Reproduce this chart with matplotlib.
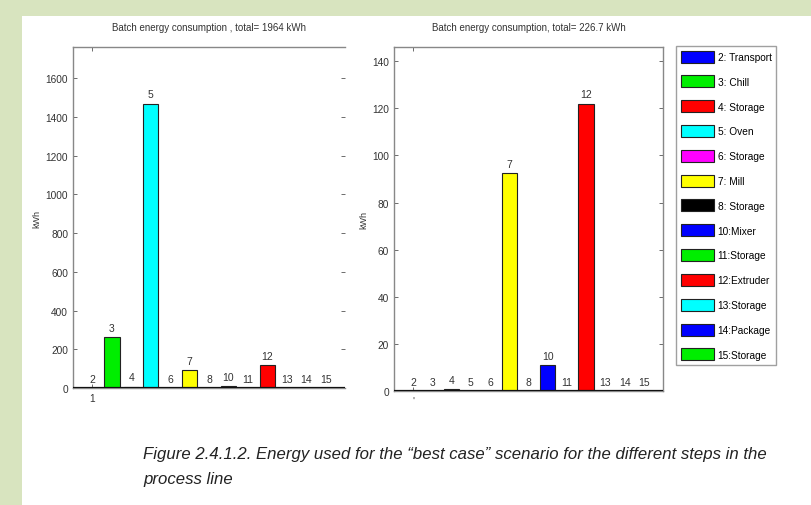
import matplotlib.pyplot as plt
from matplotlib.patches import Patch, Rectangle

plt.rcParams['font.family'] = ['Liberation Sans', 'DejaVu Sans']

steps = ['2', '3', '4', '5', '6', '7', '8', '10', '11', '12', '13', '14', '15']
colors = ['#0000ff', '#00ee00', '#ff0000', '#00ffff', '#ff00ff', '#ffff00', '#000000',
          '#0000ff', '#00ee00', '#ff0000', '#00ffff', '#0000ff', '#00ee00']
left_kwh = [0, 265, 8, 1468, 0, 95, 0, 10, 0, 118, 0, 0, 0]
right_kwh = [0, 0, 1, 0, 0, 92.5, 0, 11.2, 0, 122, 0, 0, 0]
legend_names = ['2: Transport', '3: Chill', '4: Storage', '5: Oven', '6: Storage', '7: Mill',
                '8: Storage', '10:Mixer', '11:Storage', '12:Extruder', '13:Storage',
                '14:Package', '15:Storage']
left_title = 'Batch energy consumption , total= 1964 kWh'
right_title = 'Batch energy consumption, total= 226.7 kWh'

fig = plt.figure(figsize=(8.11, 5.06), dpi=100)
fig.patch.set_facecolor('#d8e4bf')
fig.patches.append(Rectangle((22 / 811, 0), 1, 1 - 17 / 506, transform=fig.transFigure,
                             facecolor='white', edgecolor='none', zorder=-5))

ax1 = fig.add_axes([0.090, 0.231, 0.3354, 0.674])
ax2 = fig.add_axes([0.4858, 0.225, 0.3317, 0.680])

pos = list(range(1, len(steps) + 1))


def draw(ax, vals, ymax, yticks, title, tick1):
    ax.bar(pos, vals, width=0.8, color=colors, edgecolor='#222222', linewidth=0.8, zorder=2)
    for p, v, s in zip(pos, vals, steps):
        ax.annotate(s, (p, v), xytext=(0, 3), textcoords='offset points',
                    ha='center', va='bottom', fontsize=7.5, color='#333333')
    ax.axhline(0, color='#111111', lw=1.6, zorder=3)
    ax.set_xlim(0, 14)
    ax.set_ylim(0, ymax)
    ax.set_yticks(yticks)
    ax.set_xticks([1])
    ax.set_xticklabels([tick1])
    ax.tick_params(direction='in', length=3, width=0.6, color='#555555',
                   labelsize=7.3, labelcolor='#333333', right=True, top=True)
    for sp in ax.spines.values():
        sp.set_color('#888888')
        sp.set_linewidth(1.0)
    ax.set_ylabel('kWh', fontsize=6.5, color='#333333', labelpad=3)
    ax.set_title(title, fontsize=7, color='#333333', pad=12)


draw(ax1, left_kwh, 1760, range(0, 1601, 200), left_title, '1')
draw(ax2, right_kwh, 146, range(0, 141, 20), right_title, "'")
ax1.spines['right'].set_visible(False)

handles = [Patch(facecolor=c, edgecolor='#222222', linewidth=0.8) for c in colors]
fig.legend(handles, legend_names, loc='upper left', bbox_to_anchor=(676 / 811, 1 - 47 / 506),
           fontsize=7.3, frameon=True, fancybox=False, edgecolor='#888888',
           handlelength=3.3, handleheight=1.45, labelspacing=1.26, handletextpad=0.35,
           borderpad=0.45, borderaxespad=0)

fig.text(143 / 811, 1 - 467 / 506,
         'Figure 2.4.1.2. Energy used for the \u201cbest case\u201d scenario for the different steps in the\nprocess line',
         fontsize=12.1, style='italic', color='#222222', va='center', linespacing=1.8)

fig.savefig('out.png', dpi=100, facecolor=fig.get_facecolor())
